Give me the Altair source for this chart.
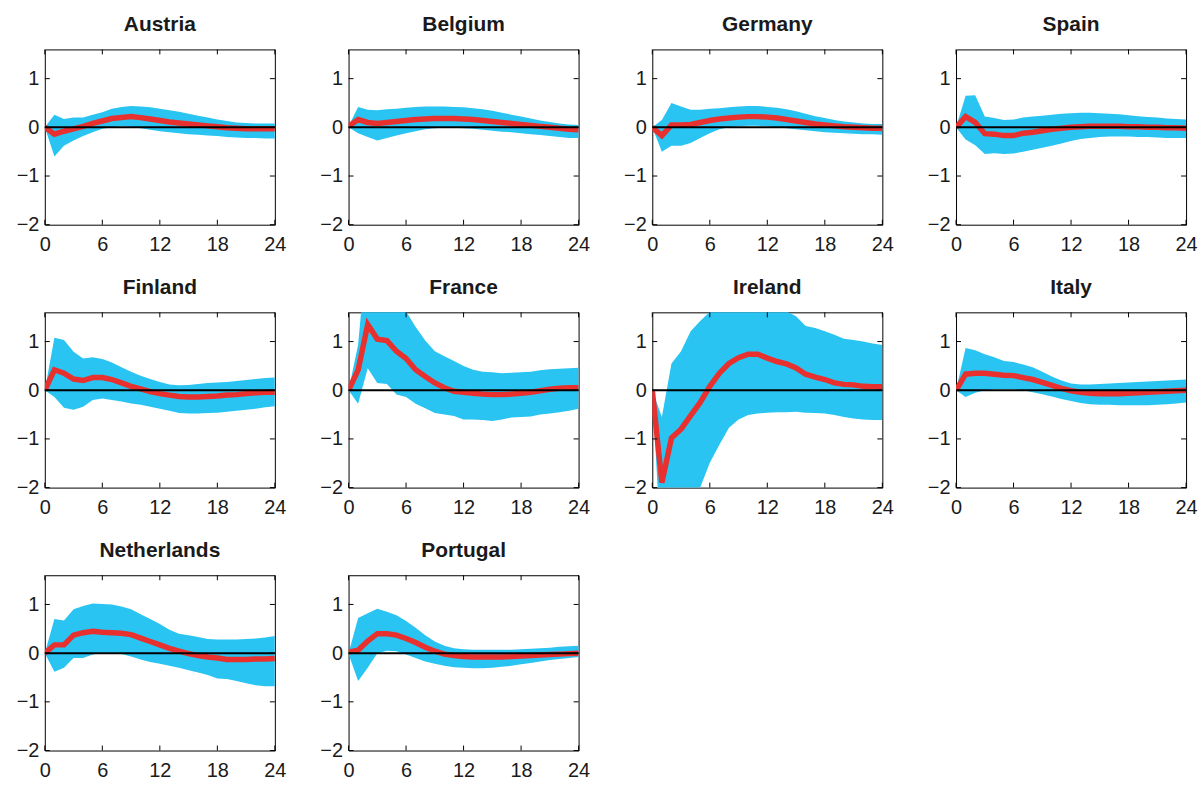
import altair as alt
import pandas as pd

# Impulse responses (months 0..24): median response and the error band
months = list(range(25))
countries = ["Austria", "Belgium", "Germany", "Spain", "Finland",
             "France", "Ireland", "Italy", "Netherlands", "Portugal"]

austria_irf = [0, -0.14, -0.08, -0.03, 0.02, 0.08, 0.13, 0.18, 0.2, 0.22, 0.2, 0.17, 0.14,
               0.11, 0.09, 0.07, 0.05, 0.03, 0.01, -0.01, -0.02, -0.03, -0.03, -0.03, -0.03]
austria_lo = [0, -0.6, -0.38, -0.27, -0.18, -0.1, -0.03, 0.0, 0.02, 0.01, -0.02, -0.05, -0.08,
              -0.1, -0.12, -0.14, -0.15, -0.17, -0.18, -0.2, -0.21, -0.22, -0.22, -0.23, -0.23]
austria_hi = [0, 0.26, 0.17, 0.2, 0.2, 0.26, 0.31, 0.38, 0.42, 0.44, 0.43, 0.41, 0.38,
              0.35, 0.32, 0.28, 0.24, 0.2, 0.16, 0.13, 0.1, 0.09, 0.08, 0.08, 0.08]

belgium_irf = [0.02, 0.16, 0.1, 0.08, 0.1, 0.12, 0.14, 0.16, 0.17, 0.18, 0.18, 0.18, 0.17,
               0.16, 0.14, 0.12, 0.1, 0.08, 0.06, 0.04, 0.02, 0.0, -0.02, -0.04, -0.05]
belgium_lo = [0, -0.12, -0.2, -0.27, -0.22, -0.17, -0.12, -0.08, -0.04, -0.02, -0.01, -0.01, -0.02,
              -0.03, -0.05, -0.07, -0.09, -0.1, -0.12, -0.14, -0.16, -0.18, -0.2, -0.22, -0.22]
belgium_hi = [0.02, 0.42, 0.36, 0.35, 0.37, 0.38, 0.4, 0.42, 0.43, 0.43, 0.43, 0.42, 0.41,
              0.39, 0.37, 0.34, 0.3, 0.26, 0.22, 0.18, 0.14, 0.11, 0.08, 0.06, 0.05]

germany_irf = [0, -0.17, 0.05, 0.05, 0.06, 0.1, 0.14, 0.17, 0.19, 0.21, 0.22, 0.22, 0.21,
               0.19, 0.16, 0.13, 0.1, 0.07, 0.05, 0.03, 0.01, 0.0, -0.01, -0.02, -0.02]
germany_lo = [0, -0.5, -0.38, -0.38, -0.32, -0.22, -0.12, -0.04, 0.0, 0.02, 0.03, 0.03, 0.02,
              0.0, -0.02, -0.04, -0.06, -0.08, -0.1, -0.11, -0.12, -0.13, -0.14, -0.14, -0.15]
germany_hi = [0, 0.15, 0.5, 0.43, 0.36, 0.36, 0.38, 0.39, 0.41, 0.43, 0.44, 0.44, 0.42,
              0.4, 0.37, 0.33, 0.28, 0.23, 0.19, 0.15, 0.12, 0.1, 0.08, 0.07, 0.07]

spain_irf = [0, 0.22, 0.1, -0.13, -0.14, -0.17, -0.17, -0.12, -0.1, -0.07, -0.04, -0.02, 0.0,
             0.01, 0.02, 0.02, 0.02, 0.02, 0.01, 0.01, 0.0, 0.0, -0.01, -0.01, -0.02]
spain_lo = [0, -0.25, -0.37, -0.55, -0.53, -0.55, -0.54, -0.5, -0.46, -0.42, -0.38, -0.33, -0.28,
            -0.24, -0.22, -0.2, -0.19, -0.19, -0.19, -0.2, -0.2, -0.21, -0.22, -0.22, -0.22]
spain_hi = [0, 0.65, 0.66, 0.22, 0.19, 0.15, 0.16, 0.2, 0.22, 0.24, 0.26, 0.28, 0.29,
            0.3, 0.3, 0.29, 0.28, 0.27, 0.25, 0.23, 0.21, 0.2, 0.18, 0.17, 0.16]

finland_irf = [0, 0.42, 0.35, 0.23, 0.2, 0.26, 0.26, 0.22, 0.15, 0.08, 0.03, -0.03, -0.07,
               -0.1, -0.13, -0.14, -0.14, -0.13, -0.12, -0.1, -0.09, -0.07, -0.05, -0.04, -0.04]
finland_lo = [0, -0.14, -0.36, -0.4, -0.34, -0.2, -0.17, -0.2, -0.23, -0.27, -0.3, -0.34, -0.38,
              -0.42, -0.47, -0.48, -0.48, -0.47, -0.46, -0.44, -0.42, -0.4, -0.38, -0.35, -0.33]
finland_hi = [0, 1.08, 1.03, 0.79, 0.65, 0.68, 0.64, 0.57, 0.47, 0.38, 0.3, 0.23, 0.17,
              0.12, 0.1, 0.11, 0.13, 0.15, 0.16, 0.17, 0.19, 0.21, 0.23, 0.25, 0.26]

france_irf = [0, 0.42, 1.35, 1.05, 1.02, 0.8, 0.65, 0.42, 0.28, 0.15, 0.05, -0.02, -0.04,
              -0.06, -0.08, -0.09, -0.09, -0.08, -0.06, -0.04, -0.01, 0.02, 0.04, 0.05, 0.05]
france_lo = [0, -0.28, 0.45, 0.15, 0.13, -0.09, -0.14, -0.28, -0.37, -0.47, -0.5, -0.53, -0.6,
             -0.6, -0.61, -0.63, -0.6, -0.56, -0.55, -0.54, -0.5, -0.48, -0.45, -0.42, -0.38]
france_hi = [0, 0.94, 3.1, 3.0, 2.6, 2.1, 1.62, 1.3, 1.02, 0.8, 0.7, 0.6, 0.5,
             0.42, 0.38, 0.37, 0.35, 0.36, 0.37, 0.38, 0.41, 0.43, 0.44, 0.45, 0.46]

ireland_irf = [0, -1.9, -0.98, -0.8, -0.52, -0.25, 0.08, 0.35, 0.55, 0.67, 0.74, 0.74, 0.66,
               0.59, 0.54, 0.46, 0.33, 0.27, 0.22, 0.15, 0.12, 0.11, 0.08, 0.07, 0.07]
ireland_lo = [0, -3.6, -3.4, -3.0, -2.5, -2.0, -1.49, -1.12, -0.77, -0.6, -0.51, -0.48, -0.46,
              -0.45, -0.45, -0.44, -0.46, -0.47, -0.48, -0.51, -0.55, -0.58, -0.6, -0.61, -0.61]
ireland_hi = [0, -0.55, 0.55, 0.8, 1.21, 1.42, 1.61, 1.9, 2.1, 2.2, 2.2, 2.1, 1.9,
              1.75, 1.62, 1.52, 1.32, 1.28, 1.21, 1.14, 1.06, 1.03, 1.0, 0.96, 0.93]

italy_irf = [0, 0.33, 0.35, 0.35, 0.33, 0.31, 0.3, 0.26, 0.22, 0.16, 0.1, 0.04, -0.01,
             -0.04, -0.06, -0.07, -0.07, -0.07, -0.06, -0.05, -0.04, -0.03, -0.02, -0.01, 0.0]
italy_lo = [0, -0.14, -0.05, 0.0, 0.02, 0.02, 0.02, 0.0, -0.04, -0.08, -0.13, -0.18, -0.22,
            -0.26, -0.29, -0.3, -0.3, -0.31, -0.31, -0.31, -0.31, -0.3, -0.29, -0.27, -0.25]
italy_hi = [0, 0.87, 0.82, 0.74, 0.68, 0.6, 0.58, 0.53, 0.47, 0.38, 0.28, 0.2, 0.14,
            0.12, 0.12, 0.13, 0.14, 0.15, 0.16, 0.17, 0.18, 0.19, 0.2, 0.21, 0.22]

netherlands_irf = [0, 0.17, 0.17, 0.37, 0.42, 0.45, 0.43, 0.42, 0.41, 0.38, 0.31, 0.24, 0.17,
                   0.1, 0.04, -0.01, -0.05, -0.08, -0.1, -0.13, -0.13, -0.13, -0.12, -0.12, -0.11]
netherlands_lo = [0, -0.38, -0.3, -0.1, -0.1, -0.03, 0.0, 0.0, -0.02, -0.07, -0.13, -0.18, -0.22,
                  -0.26, -0.3, -0.35, -0.4, -0.45, -0.52, -0.53, -0.57, -0.62, -0.66, -0.68, -0.68]
netherlands_hi = [0, 0.7, 0.67, 0.9, 0.97, 1.02, 1.01, 1.0, 0.96, 0.9, 0.8, 0.7, 0.6,
                  0.48, 0.4, 0.37, 0.33, 0.29, 0.28, 0.28, 0.28, 0.29, 0.3, 0.32, 0.35]

portugal_irf = [0.02, 0.06, 0.25, 0.4, 0.4, 0.37, 0.3, 0.22, 0.12, 0.04, -0.02, -0.05, -0.07,
                -0.08, -0.08, -0.08, -0.08, -0.07, -0.06, -0.05, -0.04, -0.03, -0.02, -0.01, 0.0]
portugal_lo = [-0.02, -0.57, -0.3, 0.0, 0.05, 0.04, -0.03, -0.1, -0.17, -0.22, -0.26, -0.29, -0.3,
               -0.31, -0.31, -0.3, -0.28, -0.26, -0.23, -0.2, -0.17, -0.14, -0.12, -0.1, -0.08]
portugal_hi = [0, 0.72, 0.82, 0.91, 0.85, 0.78, 0.66, 0.52, 0.37, 0.24, 0.15, 0.1, 0.08,
               0.07, 0.07, 0.07, 0.07, 0.07, 0.08, 0.09, 0.1, 0.11, 0.13, 0.14, 0.15]

x_tick_values = [0, 6, 12, 18, 24]
y_tick_values = [-2, -1, 0, 1]

series = {
    "Austria": (austria_irf, austria_lo, austria_hi),
    "Belgium": (belgium_irf, belgium_lo, belgium_hi),
    "Germany": (germany_irf, germany_lo, germany_hi),
    "Spain": (spain_irf, spain_lo, spain_hi),
    "Finland": (finland_irf, finland_lo, finland_hi),
    "France": (france_irf, france_lo, france_hi),
    "Ireland": (ireland_irf, ireland_lo, ireland_hi),
    "Italy": (italy_irf, italy_lo, italy_hi),
    "Netherlands": (netherlands_irf, netherlands_lo, netherlands_hi),
    "Portugal": (portugal_irf, portugal_lo, portugal_hi),
}

rows = []
for name in countries:
    mid, lo, hi = series[name]
    for t in months:
        rows.append({"country": name, "month": t, "irf": mid[t], "lo": lo[t], "hi": hi[t]})
df = pd.DataFrame(rows)
zero_df = pd.DataFrame({"level": [0]})
xt_df = pd.DataFrame({"t": x_tick_values})
yt_df = pd.DataFrame({"t": y_tick_values})

W, H = 231, 176
TICK = 5
BLUE = "#29C4F2"
RED = "#E8312E"
FONT = "Liberation Sans"

x_scale = alt.Scale(domain=[0, 24], nice=False, zero=False)
y_scale = alt.Scale(domain=[-2, 1.6], nice=False, zero=False)
x_axis = alt.Axis(values=x_tick_values, title=None, labelPadding=10)
y_axis = alt.Axis(values=y_tick_values, title=None, labelPadding=6)


def panel(name):
    base = alt.Chart(df).transform_filter(alt.datum.country == name)
    band = base.mark_area(color=BLUE, opacity=1, clip=True).encode(
        x=alt.X("month:Q", scale=x_scale, axis=x_axis),
        y=alt.Y("lo:Q", scale=y_scale, axis=y_axis),
        y2="hi:Q",
    )
    line = base.mark_line(color=RED, strokeWidth=5.5, clip=True).encode(
        x=alt.X("month:Q", scale=x_scale, axis=x_axis),
        y=alt.Y("irf:Q", scale=y_scale, axis=y_axis),
    )
    zero = alt.Chart(zero_df).mark_rule(color="black", strokeWidth=2).encode(
        y=alt.Y("level:Q", scale=y_scale, axis=y_axis),
    )
    # inward tick marks on all four sides of the box
    xt_bottom = alt.Chart(xt_df).mark_rule(color="black", strokeWidth=1).encode(
        x=alt.X("t:Q", scale=x_scale, axis=x_axis),
        y=alt.value(H), y2=alt.value(H - TICK),
    )
    xt_top = alt.Chart(xt_df).mark_rule(color="black", strokeWidth=1).encode(
        x=alt.X("t:Q", scale=x_scale, axis=x_axis),
        y=alt.value(0), y2=alt.value(TICK),
    )
    yt_left = alt.Chart(yt_df).mark_rule(color="black", strokeWidth=1).encode(
        y=alt.Y("t:Q", scale=y_scale, axis=y_axis),
        x=alt.value(0), x2=alt.value(TICK),
    )
    yt_right = alt.Chart(yt_df).mark_rule(color="black", strokeWidth=1).encode(
        y=alt.Y("t:Q", scale=y_scale, axis=y_axis),
        x=alt.value(W), x2=alt.value(W - TICK),
    )
    return alt.layer(band, line, zero, xt_bottom, xt_top, yt_left, yt_right).properties(
        width=W, height=H,
        title=alt.TitleParams(name, fontSize=21, fontWeight="bold", font=FONT,
                              color="#1a1a1a", frame="group", anchor="middle",
                              baseline="alphabetic", offset=-3),
    )


chart = alt.concat(
    *[panel(c) for c in countries],
    columns=4,
    spacing={"row": 88, "column": 74},
    bounds="flush",
).properties(
    padding={"left": 15, "top": 12, "right": 5, "bottom": 5},
    background="white",
).configure_view(
    stroke="black", strokeWidth=1,
).configure_axis(
    labelFont=FONT, labelFontSize=20, labelColor="#1a1a1a",
    ticks=False, domain=False, grid=False,
    labelFlush=False, labelOverlap=False,
)

chart.save("out.html", embed_options={"renderer": "svg", "actions": False})
